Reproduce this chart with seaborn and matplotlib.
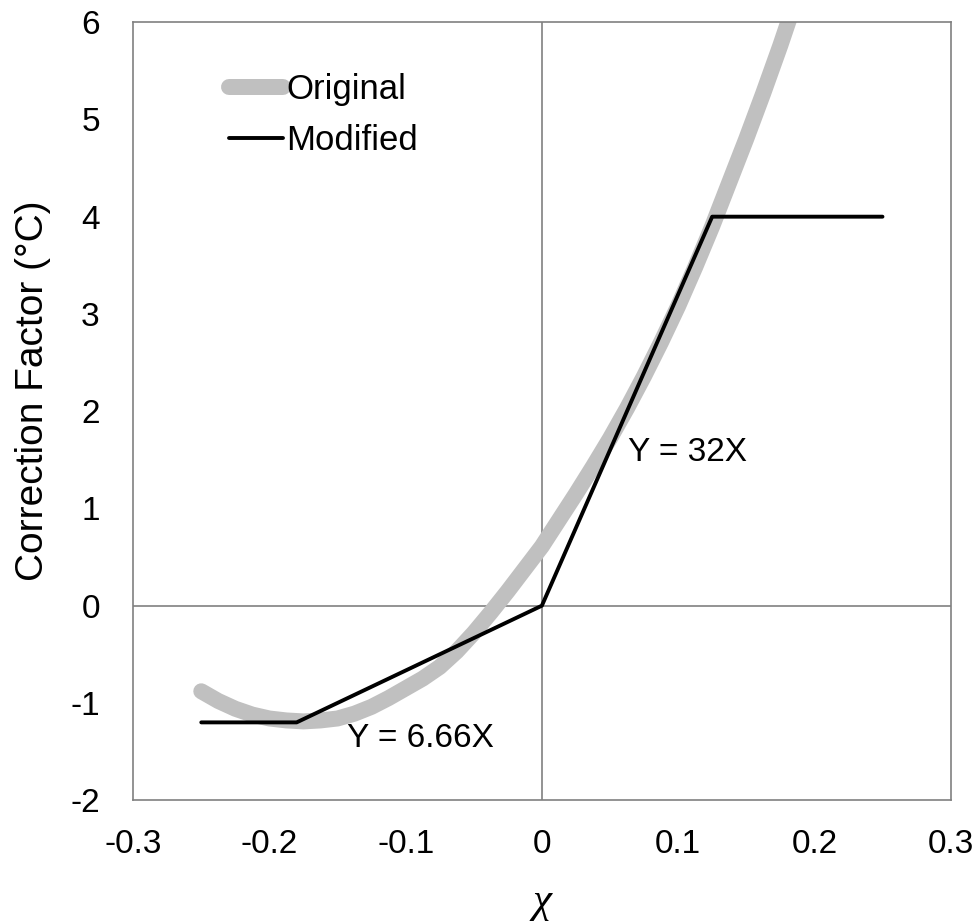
import pandas as pd
import seaborn as sns
import matplotlib.pyplot as plt

# Values
orig_x = [-0.25, -0.2375, -0.225, -0.2125, -0.2, -0.1875, -0.175, -0.1625, -0.15,
          -0.1375, -0.125, -0.1125, -0.1, -0.0875, -0.075, -0.0625, -0.05, -0.0375,
          -0.025, -0.0125, 0.0, 0.0125, 0.025, 0.0375, 0.05, 0.0625, 0.075, 0.0875,
          0.1, 0.1125, 0.125, 0.1375, 0.15, 0.1625, 0.175, 0.182]
orig_y = [-0.88, -0.98, -1.06, -1.12, -1.16, -1.18, -1.19, -1.18, -1.16,
          -1.11, -1.04, -0.95, -0.85, -0.75, -0.63, -0.47, -0.28, -0.07,
          0.15, 0.38, 0.61, 0.88, 1.15, 1.43, 1.72, 2.03, 2.36, 2.71,
          3.08, 3.48, 3.9, 4.35, 4.8, 5.27, 5.76, 6.05]

mod_x = [-0.25, -0.18, 0.0, 0.125, 0.25]
mod_y = [-1.2, -1.2, 0.0, 4.0, 4.0]

x_ticks = [-0.3, -0.2, -0.1, 0, 0.1, 0.2, 0.3]
x_tick_labels = ['-0.3', '-0.2', '-0.1', '0', '0.1', '0.2', '0.3']
y_ticks = [-2, -1, 0, 1, 2, 3, 4, 5, 6]
y_tick_labels = ['-2', '-1', '0', '1', '2', '3', '4', '5', '6']

original = pd.DataFrame({'x': orig_x, 'y': orig_y})
modified = pd.DataFrame({'x': mod_x, 'y': mod_y})

sns.set_style('white')
plt.rcParams['font.family'] = ['Liberation Sans', 'DejaVu Sans']
plt.rcParams['text.color'] = 'black'
plt.rcParams['axes.labelcolor'] = 'black'

fig = plt.figure(figsize=(9.79, 9.24), dpi=100)
ax = fig.add_axes([0.136, 0.134, 0.835, 0.842])

# thin axis lines through the origin
ax.axhline(0, color='#808080', lw=1.2, zorder=1)
ax.axvline(0, color='#808080', lw=1.2, zorder=1)

sns.lineplot(data=original, x='x', y='y', ax=ax, color='#c0c0c0', lw=11.5,
             sort=False, label='Original', solid_capstyle='round',
             solid_joinstyle='round', zorder=2)
sns.lineplot(data=modified, x='x', y='y', ax=ax, color='black', lw=2.8,
             sort=False, label='Modified', solid_capstyle='round', zorder=3)

ax.set_xlim(-0.3, 0.3)
ax.set_ylim(-2, 6)
ax.set_xticks(x_ticks)
ax.set_xticklabels(x_tick_labels)
ax.set_yticks(y_ticks)
ax.set_yticklabels(y_tick_labels)
ax.tick_params(axis='both', length=0, labelsize=24, colors='black')
ax.tick_params(axis='x', pad=21)
ax.tick_params(axis='y', pad=24)

for spine in ax.spines.values():
    spine.set_color('#808080')
    spine.set_linewidth(1.2)

ax.set_xlabel('χ', fontsize=31, family='Liberation Serif', style='italic',
              labelpad=16)
ax.set_ylabel('Correction Factor (°C)', fontsize=28)
ax.yaxis.set_label_coords(-0.101, 0.526)

ax.text(0.063, 1.57, 'Y = 32X', fontsize=24, va='center', ha='left')
ax.text(-0.143, -1.37, 'Y = 6.66X', fontsize=24, va='center', ha='left')

ax.legend(loc='upper left', bbox_to_anchor=(0.1, 0.952), frameon=False,
          fontsize=25, handlelength=1.55, handletextpad=0.1, labelspacing=0.5,
          borderaxespad=0)

fig.savefig('out.png', dpi=100)
